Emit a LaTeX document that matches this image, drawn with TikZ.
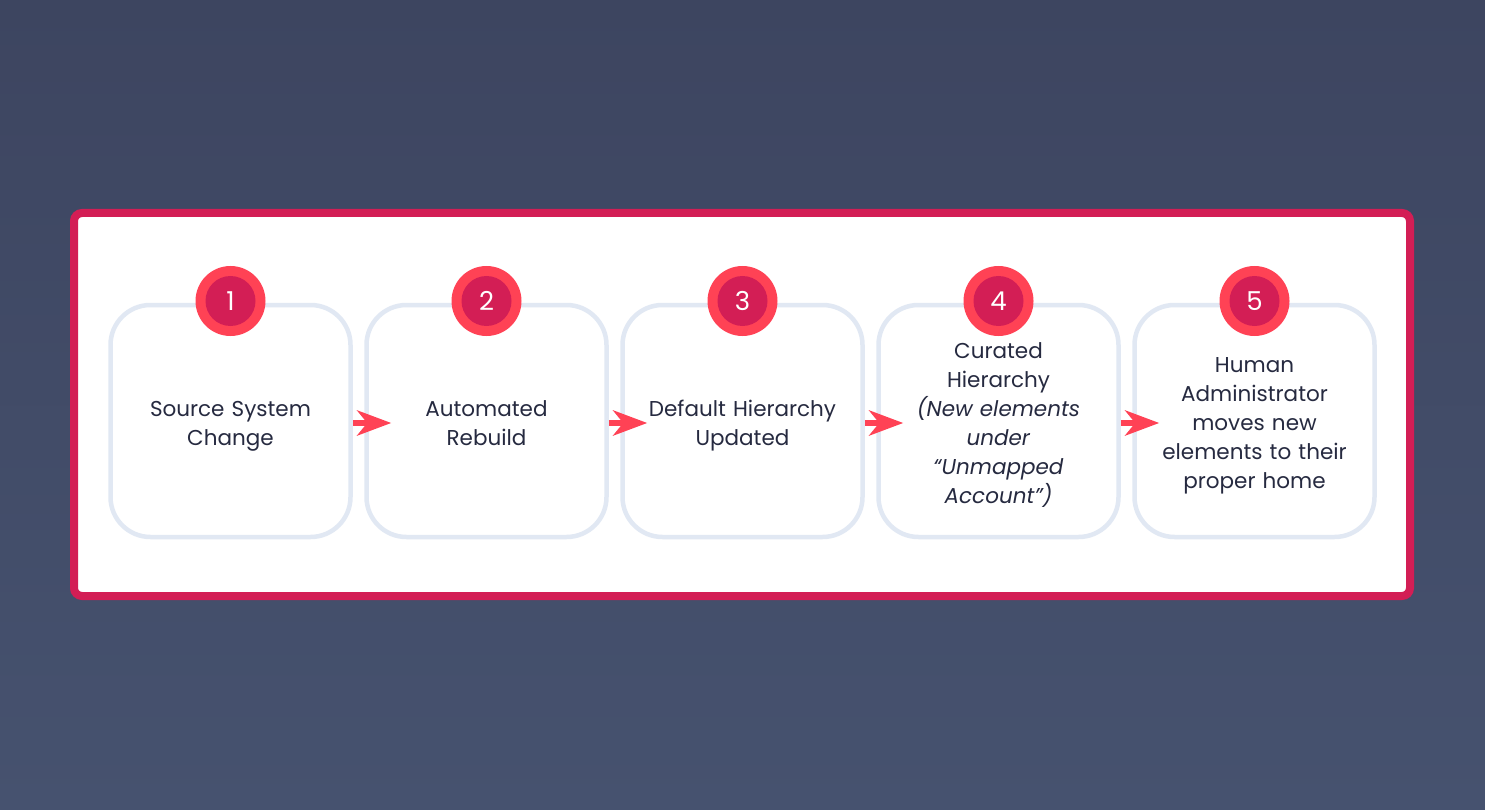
\documentclass[tikz,border=0pt]{standalone}
\usepackage{fontspec}
\setmainfont{Poppins}
\usetikzlibrary{arrows.meta}
\definecolor{bgtop}{HTML}{3D4560}
\definecolor{bgbot}{HTML}{46526F}
\definecolor{frame}{HTML}{D31E55}
\definecolor{boxline}{HTML}{E1E8F3}
\definecolor{ringred}{HTML}{FF4255}
\definecolor{txt}{HTML}{262A40}
\tikzset{
  stepbox/.style={draw=boxline, line width=4.5pt, rounded corners=40pt, fill=white,
    minimum width=240pt, minimum height=232pt, inner sep=0pt},
  steptext/.style={text=txt, font=\fontsize{21.5}{29}\selectfont, align=center, text width=230pt},
  ring/.style={circle, fill=ringred, minimum size=70pt, inner sep=0pt},
  core/.style={circle, fill=frame, minimum size=50pt, inner sep=0pt, text=white,
    font=\fontsize{26}{26}\selectfont},
  flow/.style={draw=ringred, line width=6pt, shorten >=-27pt,
    -{Stealth[length=34pt,width=25pt,inset=10pt]}}
}
\begin{document}
\begin{tikzpicture}[x=1pt,y=-1pt]
\useasboundingbox (0,0) rectangle (1485,810);
\shade[top color=bgtop, bottom color=bgbot] (0,0) rectangle (1485,810);
\node[draw=frame, line width=8pt, fill=white, rounded corners=8pt, minimum width=1336pt,
  minimum height=383pt, inner sep=0pt] (frame) at (742,404.5) {};
\foreach \i/\t in {1/{Source System\\Change},2/{Automated\\Rebuild},3/{Default Hierarchy\\Updated},
  4/{Curated\\Hierarchy\\\textit{(New elements}\\\textit{under}\\\textit{“Unmapped}\\\textit{Account”)}},
  5/{Human\\Administrator\\moves new\\elements to their\\proper home}}{
  \node[stepbox] (b\i) at ({230.5+256*(\i-1)},421) {};
  \node[steptext] (t\i) at ([yshift=-4pt]b\i.center) {\strut\t\strut};
  \node[ring] (c\i) at ({230.5+256*(\i-1)},301) {};
  \node[core] (n\i) at (c\i.center) {\i};
}
\foreach \i [evaluate=\i as \j using int(\i+1)] in {1,2,3,4}{
  \draw[flow] ([yshift=-2pt]b\i.east) -- ([yshift=-2pt]b\j.west);
}
\end{tikzpicture}
\end{document}
